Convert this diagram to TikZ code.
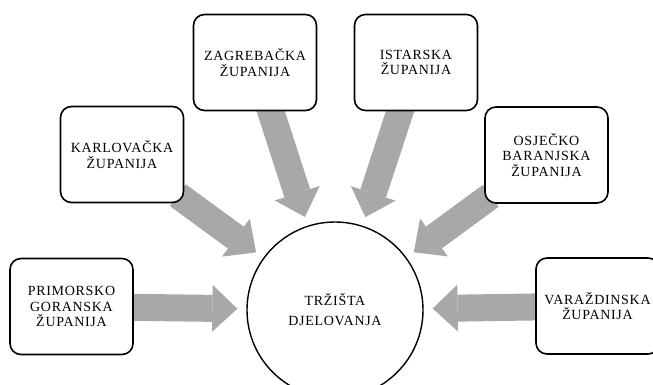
\documentclass[tikz,border=0pt]{standalone}
\usepackage{fontspec}
\setmainfont{Liberation Serif}[LetterSpace=5]
\usetikzlibrary{arrows.meta,backgrounds}
\definecolor{flowgray}{HTML}{A8A8A8}
\tikzset{
    county/.style = {
        draw,
        line width=1.6pt,
        rounded corners=11pt,
        fill = white,
        minimum width=123pt,
        minimum height=96pt,
        align=center,
        inner sep=1pt,
        font=\fontsize{14}{15.5}\selectfont,
        },
    market/.style = {
        draw,
        circle,
        line width=1.4pt,
        fill = white,
        minimum size=176pt,
        align=center,
        font=\fontsize{14}{20}\selectfont,
        },
    flow/.style = {
        draw = flowgray,
        line width=27pt,
        -{Triangle[width=47pt,length=25pt,line width=0pt]},
        shorten >=9pt,
        shorten <=-8pt,
        },
}

\begin{document}
\begin{tikzpicture}[x=1pt,y=-1pt]
            \clip (0,0) rectangle (653,385);
            \node[market] (trziste) at (335,310) {TRŽIŠTA\\DJELOVANJA};
            \node[county] (prim) at (71.5,306.5) {PRIMORSKO\\GORANSKA\\ŽUPANIJA};
            \node[county] (karl) at (122,154.5) {KARLOVAČKA\\ŽUPANIJA};
            \node[county] (zag) at (255,62.5) {ZAGREBAČKA\\ŽUPANIJA};
            \node[county] (ist) at (416,62.5) {ISTARSKA\\ŽUPANIJA};
            \node[county] (osj) at (546.5,155) {OSJEČKO\\BARANJSKA\\ŽUPANIJA};
            \node[county] (var) at (597.5,306) {VARAŽDINSKA\\ŽUPANIJA};

            \begin{scope}[on background layer]
            \path (prim) edge[flow] (trziste);
            \path (karl) edge[flow] (trziste);
            \path (zag) edge[flow] (trziste);
            \path (ist) edge[flow] (trziste);
            \path (osj) edge[flow] (trziste);
            \path (var) edge[flow] (trziste);
            \end{scope}
        \end{tikzpicture}
\end{document}
